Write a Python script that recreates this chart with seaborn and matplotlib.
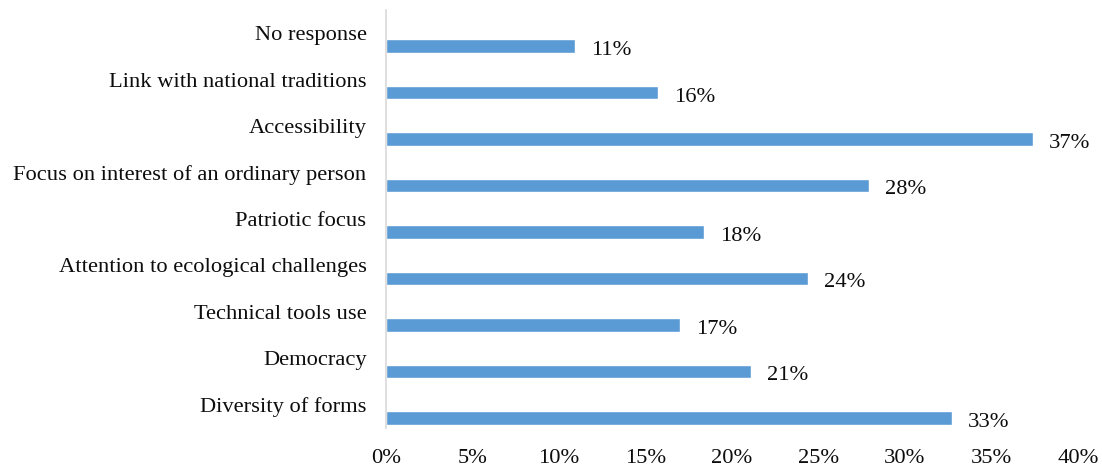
import matplotlib
matplotlib.use("Agg")
import matplotlib.pyplot as plt
import matplotlib.transforms as mtransforms
import seaborn as sns
import pandas as pd

categories = [
    "No response",
    "Link with national traditions",
    "Accessibility",
    "Focus on interest of an ordinary person",
    "Patriotic focus",
    "Attention to ecological challenges",
    "Technical tools use",
    "Democracy",
    "Diversity of forms",
]
shares = [10.9, 15.7, 37.4, 27.9, 18.4, 24.4, 17.0, 21.1, 32.7]
x_ticks = [0, 5, 10, 15, 20, 25, 30, 35, 40]
x_tick_labels = [f"{t}%" for t in x_ticks]

sns.set_theme(style="white")
plt.rcParams["font.family"] = ["Liberation Serif", "DejaVu Serif"]

df = pd.DataFrame({"category": categories, "share": shares})

fig = plt.figure(figsize=(11.02, 4.68), dpi=100)
ax = fig.add_axes([0.3503, 0.0855, 0.6279, 0.8931])

sns.barplot(data=df, x="share", y="category", orient="h",
            color="#5B9BD5", saturation=1, width=0.29, ax=ax)

ax.set_xlim(0, 40)
ax.set_ylim(8.216, -0.776)
ax.set_xticks(x_ticks)
ax.set_xticklabels(x_tick_labels)
ax.set_xlabel("")
ax.set_ylabel("")

for side in ["top", "right", "bottom"]:
    ax.spines[side].set_visible(False)
ax.spines["left"].set_color("#D9D9D9")
ax.spines["left"].set_linewidth(1.2)

text_color = "#0d0d0d"
ax.tick_params(axis="both", length=0, labelsize=16.2, colors=text_color)
ax.tick_params(axis="y", pad=14)
ax.tick_params(axis="x", pad=15)

# category names sit in the upper half of each band
shift = mtransforms.ScaledTranslation(0, 13 / 100, fig.dpi_scale_trans)
for lbl in ax.get_yticklabels():
    lbl.set_transform(lbl.get_transform() + shift)

for container in ax.containers:
    texts = ax.bar_label(container, labels=[f"{v:.0f}%" for v in shares],
                         padding=11.5, fontsize=16.2, color=text_color)
    for t in texts:
        t.xyann = (11.5, -3.2)

ax.grid(False)
fig.savefig("out.png", dpi=100)
